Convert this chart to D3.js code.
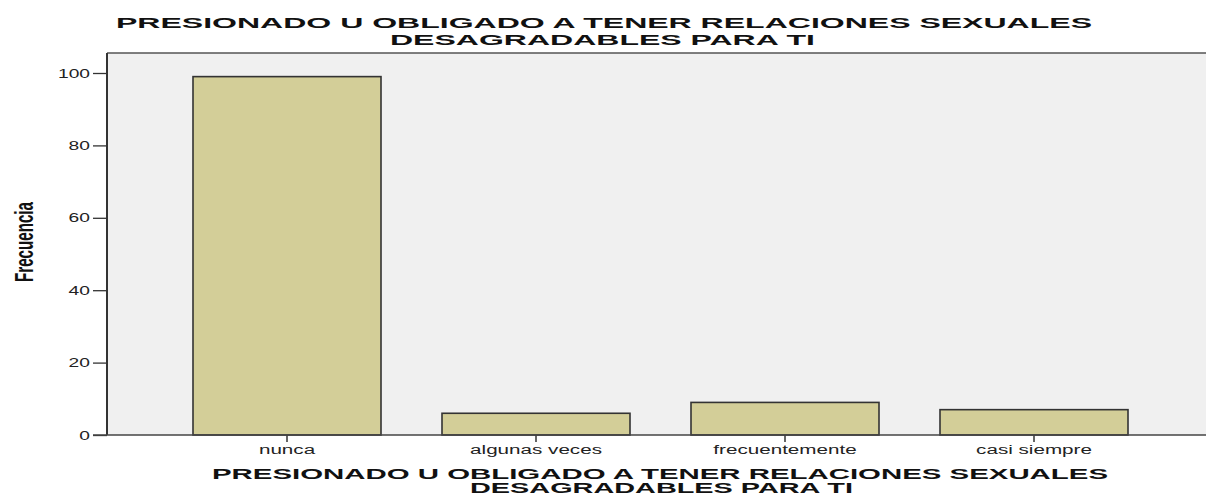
<!DOCTYPE html>
<html><head><meta charset="utf-8">
<script src="https://cdn.jsdelivr.net/npm/d3@7"></script>
<style>body{margin:0;background:#fff}svg{display:block}</style>
</head><body>
<script>
const categories = ["nunca", "algunas veces", "frecuentemente", "casi siempre"];
const values = [99, 6, 9, 7];
const yTicks = [0, 20, 40, 60, 80, 100];
const titleLines = ["PRESIONADO U OBLIGADO A TENER RELACIONES SEXUALES", "DESAGRADABLES PARA TI"];
const yLabel = "Frecuencia";

const W = 1206, H = 494;
const svg = d3.select("body").append("svg").attr("width", W).attr("height", H);
const L = 107, T = 53, R = 1206, B = 435;

const y = d3.scaleLinear().domain([0, 100]).range([B, 73]);
const x = d3.scaleBand().domain(categories).range([162.5, 1158.5]).paddingInner(0.245).paddingOuter(0.1225);

svg.append("rect").attr("x", L).attr("y", T).attr("width", R - L).attr("height", B - T).attr("fill", "#f0f0f0");
svg.append("line").attr("x1", L).attr("x2", R).attr("y1", T).attr("y2", T).attr("stroke", "#555").attr("stroke-width", 1.5);

// bars
svg.append("g").selectAll("rect").data(values).join("rect")
  .attr("x", (d, i) => x(categories[i]))
  .attr("y", d => y(d))
  .attr("width", x.bandwidth())
  .attr("height", d => y(0) - y(d))
  .attr("fill", "#d3ce98")
  .attr("stroke", "#333")
  .attr("stroke-width", 1.6);

function stretch(sel, f) {
  sel.each(function () {
    const w = this.getComputedTextLength();
    d3.select(this).attr("textLength", w * f).attr("lengthAdjust", "spacingAndGlyphs");
  });
}

// y axis
const ya = svg.append("g").attr("transform", `translate(${L},0)`)
  .call(d3.axisLeft(y).tickValues(yTicks).tickSize(14).tickPadding(3).tickSizeOuter(0));
ya.select(".domain").remove();
ya.selectAll(".tick line").attr("stroke", "#333").attr("stroke-width", 1.3);
ya.selectAll(".tick text").attr("font-family", "Liberation Sans, Arial, sans-serif").attr("font-size", 12).attr("fill", "#222").attr("dy", "0.34em").call(stretch, 1.6);
svg.append("line").attr("x1", L).attr("x2", L).attr("y1", T).attr("y2", B).attr("stroke", "#333").attr("stroke-width", 2);

// x axis
const xa = svg.append("g").attr("transform", `translate(0,${B})`)
  .call(d3.axisBottom(x).tickSize(7).tickPadding(4).tickSizeOuter(0));
xa.select(".domain").remove();
xa.selectAll(".tick line").attr("stroke", "#333").attr("stroke-width", 1.5);
xa.selectAll(".tick text").attr("font-family", "Liberation Sans, Arial, sans-serif").attr("font-size", 12.5).attr("fill", "#222").attr("dy", "0.6em").call(stretch, 1.65);
svg.append("line").attr("x1", 93).attr("x2", R).attr("y1", B).attr("y2", B).attr("stroke", "#444").attr("stroke-width", 1.5);

// titles
function title(x0, x1, y0, len1, len2, y1, fs) {
  svg.append("text").attr("x", x0).attr("y", y0).text(titleLines[0])
    .attr("font-family", "Liberation Sans, Arial, sans-serif").attr("font-weight", "bold").attr("font-size", fs)
    .attr("textLength", len1).attr("lengthAdjust", "spacingAndGlyphs").attr("fill", "#111");
  svg.append("text").attr("x", x1).attr("y", y1).text(titleLines[1])
    .attr("font-family", "Liberation Sans, Arial, sans-serif").attr("font-weight", "bold").attr("font-size", fs)
    .attr("textLength", len2).attr("lengthAdjust", "spacingAndGlyphs").attr("fill", "#111");
}
title(116, 390, 28, 976, 425, 44.5, 15.5);
title(212, 470, 478.5, 896, 383, 492.5, 15);

// y label
svg.append("text").attr("transform", "translate(33,242) rotate(-90)").attr("text-anchor", "middle")
  .text(yLabel).attr("font-family", "Liberation Sans Narrow, Liberation Sans, Arial, sans-serif")
  .attr("font-weight", "bold").attr("font-size", 26).attr("textLength", 80).attr("lengthAdjust", "spacingAndGlyphs").attr("fill", "#111");
</script>
</body></html>
